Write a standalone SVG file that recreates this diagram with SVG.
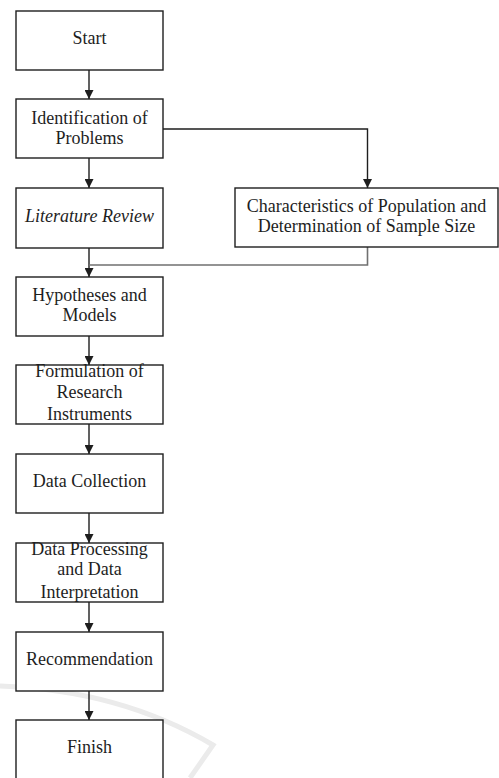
<svg xmlns="http://www.w3.org/2000/svg" width="499" height="778" viewBox="0 0 499 778">
<style>
.box{fill:#fff;stroke:#1e1e1e;stroke-width:1.4}
.t{font-family:"Liberation Serif","Times New Roman",serif;font-size:18px;fill:#1e1e1e;text-anchor:middle}
.c{fill:none;stroke:#1e1e1e;stroke-width:1.4}
.g{fill:none;stroke:#707070;stroke-width:1.6}
</style>
<defs>
<marker id="ah" viewBox="0 0 10 10" refX="10" refY="5" markerWidth="9" markerHeight="9" markerUnits="userSpaceOnUse" orient="auto">
<path d="M0,0 L10,5 L0,10 z" fill="#1e1e1e"/>
</marker>
</defs>
<rect width="499" height="778" fill="#fff"/>
<path d="M0,686 Q120,690 213,745 L190,778" fill="none" stroke="#ebebeb" stroke-width="5"/>
<g id="connectors">
<line class="c" x1="89" y1="70" x2="89" y2="99" marker-end="url(#ah)"/>
<line class="c" x1="89" y1="158" x2="89" y2="188" marker-end="url(#ah)"/>
<polyline class="c" points="163,129 367.5,129 367.5,188" marker-end="url(#ah)"/>
<line class="c" x1="89" y1="248" x2="89" y2="277" marker-end="url(#ah)"/>
<polyline class="g" points="367.5,247 367.5,265 89,265"/>
<line class="c" x1="89" y1="336" x2="89" y2="365" marker-end="url(#ah)"/>
<line class="c" x1="89" y1="424" x2="89" y2="454" marker-end="url(#ah)"/>
<line class="c" x1="89" y1="513" x2="89" y2="543" marker-end="url(#ah)"/>
<line class="c" x1="89" y1="602" x2="89" y2="632" marker-end="url(#ah)"/>
<line class="c" x1="89" y1="691" x2="89" y2="720" marker-end="url(#ah)"/>
</g>
<g id="start"><rect class="box" x="16" y="11" width="147" height="59"/><text class="t" x="89.5" y="44">Start</text></g>
<g id="identification"><rect class="box" x="16" y="99" width="147" height="59"/><text class="t" x="89.5" y="124">Identification of</text><text class="t" x="89.5" y="144">Problems</text></g>
<g id="literature"><rect class="box" x="16" y="188" width="147" height="60"/><text class="t" x="89.5" y="222" font-style="italic">Literature Review</text></g>
<g id="characteristics"><rect class="box" x="235" y="188" width="263" height="59"/><text class="t" x="366.5" y="212">Characteristics of Population and</text><text class="t" x="366.5" y="232">Determination of Sample Size</text></g>
<g id="hypotheses"><rect class="box" x="16" y="277" width="147" height="59"/><text class="t" x="89.5" y="301">Hypotheses and</text><text class="t" x="89.5" y="321">Models</text></g>
<g id="formulation"><rect class="box" x="16" y="365" width="147" height="59"/><text class="t" x="89.5" y="377">Formulation of</text><text class="t" x="89.5" y="398">Research</text><text class="t" x="89.5" y="420">Instruments</text></g>
<g id="datacollection"><rect class="box" x="16" y="454" width="147" height="59"/><text class="t" x="89.5" y="487">Data Collection</text></g>
<g id="dataprocessing"><rect class="box" x="16" y="543" width="147" height="59"/><text class="t" x="89.5" y="555">Data Processing</text><text class="t" x="89.5" y="575">and Data</text><text class="t" x="89.5" y="598">Interpretation</text></g>
<g id="recommendation"><rect class="box" x="16" y="632" width="147" height="59"/><text class="t" x="89.5" y="665">Recommendation</text></g>
<g id="finish"><rect class="box" x="16" y="720" width="147" height="62"/><text class="t" x="89.5" y="753">Finish</text></g>
</svg>
